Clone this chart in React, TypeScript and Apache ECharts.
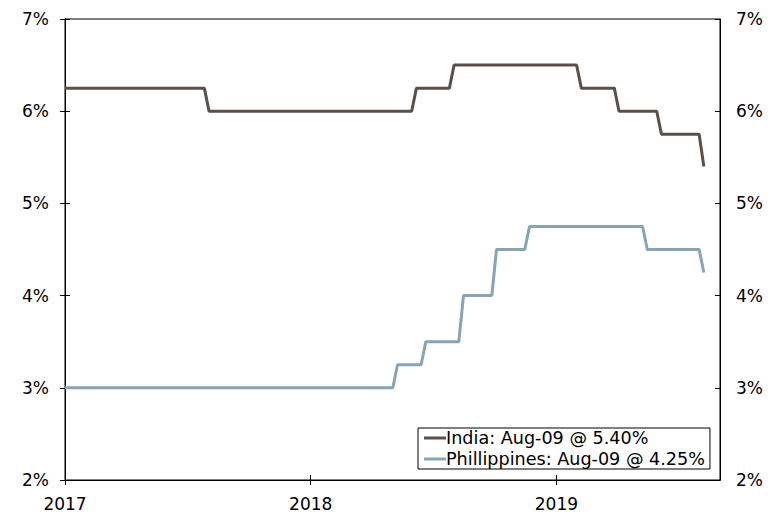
import React, { useEffect, useRef } from "react";
import * as echarts from "echarts";

// Policy rates (weekly observations), vertices of the step lines
const indiaDates = [
  "2017-01-01", "2017-07-27", "2017-08-03", "2018-05-31", "2018-06-07",
  "2018-07-26", "2018-08-02", "2019-01-31", "2019-02-07", "2019-03-28",
  "2019-04-04", "2019-05-30", "2019-06-06", "2019-08-01", "2019-08-08",
];
const indiaValues = [
  6.25, 6.25, 6.0, 6.0, 6.25,
  6.25, 6.5, 6.5, 6.25, 6.25,
  6.0, 6.0, 5.75, 5.75, 5.4,
];
const philDates = [
  "2017-01-01", "2018-05-03", "2018-05-10", "2018-06-14", "2018-06-21",
  "2018-08-09", "2018-08-16", "2018-09-27", "2018-10-04", "2018-11-15",
  "2018-11-22", "2019-05-09", "2019-05-16", "2019-08-01", "2019-08-08",
];
const philValues = [
  3.0, 3.0, 3.25, 3.25, 3.5,
  3.5, 4.0, 4.0, 4.5, 4.5,
  4.75, 4.75, 4.5, 4.5, 4.25,
];
const seriesNames = ["India: Aug-09 @ 5.40%", "Phillippines: Aug-09 @ 4.25%"];
const yearTicks = ["2017-01-01", "2018-01-01", "2019-01-01"];
const axisStart = "2017-01-01";
const axisEnd = "2019-09-01";

const DAY = 86400000;
function dayOf(s: string): number {
  const [y, m, d] = s.split("-").map(Number);
  const [y0, m0, d0] = axisStart.split("-").map(Number);
  return Math.round((Date.UTC(y, m - 1, d) - Date.UTC(y0, m0 - 1, d0)) / DAY);
}
function yearOfDay(v: number): string {
  const [y0, m0, d0] = axisStart.split("-").map(Number);
  return String(new Date(Date.UTC(y0, m0 - 1, d0) + v * DAY).getUTCFullYear());
}

const FONT = "DejaVu Sans";
const FS = 17;

export default function App() {
  const ref = useRef<HTMLDivElement>(null);
  useEffect(() => {
    if (!ref.current) return;
    const chart = echarts.init(ref.current, undefined, { renderer: "svg" });
    const tickDays = yearTicks.map(dayOf);
    const xMax = dayOf(axisEnd);
    const baseX = {
      type: "value",
      min: 0,
      max: xMax,
      interval: 365,
      splitLine: { show: false },
      axisLine: { show: true, lineStyle: { color: "#000", width: 1 } },
    };
    const baseY = {
      type: "value",
      min: 2,
      max: 7,
      interval: 1,
      splitLine: { show: false },
      axisLine: { show: true, lineStyle: { color: "#000", width: 1 } },
    };
    chart.setOption({
      animation: false,
      backgroundColor: "#fff",
      grid: {
        left: 65, right: 56, top: 19, bottom: 31,
        show: true, borderColor: "#000", borderWidth: 1, backgroundColor: "transparent",
      },
      legend: {
        orient: "vertical",
        left: 418,
        top: 428,
        backgroundColor: "#fff",
        borderColor: "#000",
        borderWidth: 1,
        borderRadius: 0,
        padding: [1, 5, 1, 6],
        itemGap: 3,
        itemWidth: 22,
        itemHeight: 3,
        icon: "rect",
        textStyle: { fontFamily: FONT, fontSize: 17.6, color: "#000", padding: [0, 0, 0, -5] },
        data: seriesNames,
      },
      xAxis: [
        {
          ...baseX,
          axisTick: { show: true, inside: false, length: 5, lineStyle: { color: "#000" }, customValues: tickDays },
          axisLabel: {
            show: true, margin: 15, fontFamily: FONT, fontSize: FS, color: "#000",
            customValues: tickDays,
            formatter: (v: number) => (tickDays.includes(v) ? yearOfDay(v) : ""),
          },
        },
        {
          ...baseX,
          position: "bottom",
          axisTick: { show: true, inside: true, length: 5, lineStyle: { color: "#000" }, customValues: tickDays },
          axisLabel: { show: false },
        },
      ],
      yAxis: [
        {
          ...baseY,
          position: "left",
          axisTick: { show: true, inside: false, length: 5, lineStyle: { color: "#000" } },
          axisLabel: { margin: 16, fontFamily: FONT, fontSize: FS, color: "#000", formatter: "{value}%" },
        },
        {
          ...baseY,
          position: "right",
          axisTick: { show: true, inside: false, length: 5, lineStyle: { color: "#000" } },
          axisLabel: { margin: 16, fontFamily: FONT, fontSize: FS, color: "#000", formatter: "{value}%" },
        },
        {
          ...baseY,
          position: "left",
          axisTick: { show: true, inside: true, length: 5, lineStyle: { color: "#000" } },
          axisLabel: { show: false },
        },
        {
          ...baseY,
          position: "right",
          axisTick: { show: true, inside: true, length: 5, lineStyle: { color: "#000" } },
          axisLabel: { show: false },
        },
      ],
      series: [
        {
          name: seriesNames[0],
          type: "line",
          showSymbol: false,
          symbol: "none",
          color: "#5b5047",
          lineStyle: { width: 3, color: "#5b5047" },
          data: indiaDates.map((d, i) => [dayOf(d), indiaValues[i]]),
        },
        {
          name: seriesNames[1],
          type: "line",
          showSymbol: false,
          symbol: "none",
          color: "#87a4b6",
          lineStyle: { width: 3, color: "#87a4b6" },
          data: philDates.map((d, i) => [dayOf(d), philValues[i]]),
        },
      ],
    });
    return () => chart.dispose();
  }, []);
  return (
    <div
      ref={ref}
      style={{ position: "fixed", left: 0, top: 0, width: 776, height: 512, background: "#fff" }}
    />
  );
}
